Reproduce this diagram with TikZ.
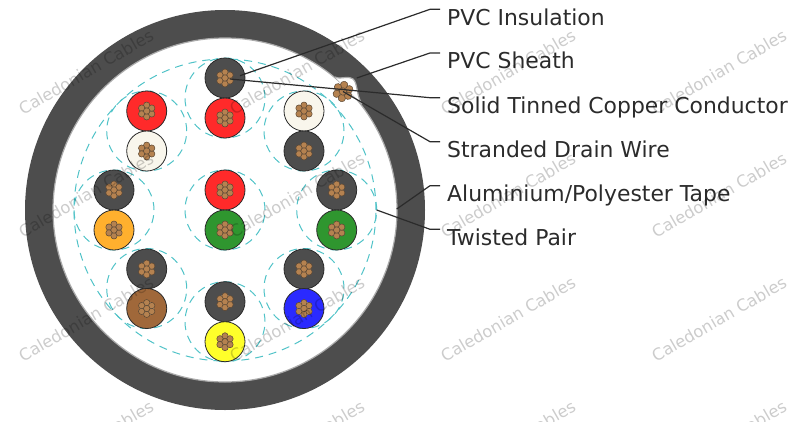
\documentclass[tikz,border=0pt]{standalone}
\usepackage{fontspec}
\setmainfont{DejaVu Sans}
\usepackage{xcolor}
\definecolor{SH}{RGB}{77,77,77}
\definecolor{TP}{RGB}{170,170,170}
\definecolor{CD}{RGB}{77,77,77}
\definecolor{CR}{RGB}{255,42,42}
\definecolor{CC}{RGB}{249,246,236}
\definecolor{CO}{RGB}{255,176,46}
\definecolor{CG}{RGB}{47,150,47}
\definecolor{CN}{RGB}{160,104,58}
\definecolor{CL}{RGB}{42,42,255}
\definecolor{CY}{RGB}{255,255,42}
\definecolor{ST}{RGB}{181,130,80}
\definecolor{SO}{RGB}{90,70,50}
\definecolor{DH}{RGB}{80,195,200}
\definecolor{DG}{RGB}{43,43,43}

\begin{document}
\begin{tikzpicture}[x=1pt, y=-1pt,
  wire/.style={circle, draw=DG, fill=#1, line width=0.8pt, minimum size=40pt, inner sep=0pt},
  dsh/.style={circle, draw=DH, dashed, dash pattern=on 8pt off 6pt, line width=1pt, inner sep=0pt, minimum size=#1},
  lead/.style={draw=DG, line width=1.2pt},
  lbl/.style={anchor=north west, inner xsep=7pt, inner ysep=0pt, text height=15.5pt, text depth=5pt,
              font=\fontsize{21.9}{24}\selectfont, text=DG},
  wm/.style={rotate=30, text=black, opacity=0.2, font=\fontsize{16.4}{20}\selectfont},
  strands/.pic={
    \fill[white] (0,0) circle (7pt);
    \foreach \a in {0,60,...,300}
      \draw[draw=SO, fill=ST, line width=0.5pt] (\a:5.8pt) circle (3.2pt);
    \draw[draw=SO, fill=ST, line width=0.5pt] (0,0) circle (3.2pt);
  }
]
\useasboundingbox (0,0) rectangle (790,421);

% Sheath and tape
\node[circle, fill=SH, minimum size=400pt, inner sep=0pt] (sheath) at (225,210) {};
\node[circle, fill=white, draw=TP, line width=1.2pt, minimum size=344pt, inner sep=0pt] (tape) at (225,210) {};
\fill[white] (335,77) .. controls (342,80) and (346,75) .. (353,79)
  .. controls (358,83) and (356,95) .. (362,104) -- cycle;
\draw[draw=TP, line width=1.2pt] (335,77) .. controls (342,80) and (346,75) .. (353,79)
  .. controls (358,83) and (356,95) .. (362,104);

% Lay-up
\node[dsh=302pt] (core) at (225,210) {};
\node[dsh=80pt] (p1) at (225,98) {};
\node[dsh=80pt] (p2) at (146.7,131) {};
\node[dsh=80pt] (p3) at (304,131) {};
\node[dsh=80pt] (p4) at (114,210) {};
\node[dsh=80pt] (p5) at (225,210) {};
\node[dsh=80pt] (p6) at (336.7,210) {};
\node[dsh=80pt] (p7) at (146.7,288.5) {};
\node[dsh=80pt] (p8) at (225,321.7) {};
\node[dsh=80pt] (p9) at (304,288.5) {};

% Wires
\node[wire=CD] (w1a) at (225,78) {};
\node[wire=CR] (w1b) at (225,118) {};
\node[wire=CR] (w2a) at (146.7,111) {};
\node[wire=CC] (w2b) at (146.7,151) {};
\node[wire=CC] (w3a) at (304,111) {};
\node[wire=CD] (w3b) at (304,151) {};
\node[wire=CD] (w4a) at (114,190) {};
\node[wire=CO] (w4b) at (114,230) {};
\node[wire=CR] (w5a) at (225,190) {};
\node[wire=CG] (w5b) at (225,230) {};
\node[wire=CD] (w6a) at (336.7,190) {};
\node[wire=CG] (w6b) at (336.7,230) {};
\node[wire=CD] (w7a) at (146.7,269) {};
\node[wire=CN] (w7b) at (146.7,308.5) {};
\node[wire=CD] (w8a) at (225,301.7) {};
\node[wire=CY] (w8b) at (225,341.7) {};
\node[wire=CD] (w9a) at (304,269) {};
\node[wire=CL] (w9b) at (304,308.5) {};
\foreach \w in {w1a,w1b,w2a,w2b,w3a,w3b,w4a,w4b,w5a,w5b,w6a,w6b,w7a,w7b,w8a,w8b,w9a,w9b}
  \pic[rotate=90] at (\w) {strands};
\pic[rotate=80, scale=1.15] at (343,91.5) {strands};

% Labels
\node[lbl] (l1) at (440,9.3)   {PVC Insulation};
\node[lbl] (l2) at (440,53)    {PVC Sheath};
\node[lbl] (l3) at (440,97.7)  {Solid Tinned Copper Conductor};
\node[lbl] (l4) at (440,141.7) {Stranded Drain Wire};
\node[lbl] (l5) at (440,185.7) {Aluminium/Polyester Tape};
\node[lbl] (l6) at (440,229.3) {Twisted Pair};

\coordinate (a1) at (240,75.7);
\coordinate (a2) at (356.7,78);
\coordinate (a3) at (230,79);
\coordinate (a4) at (343,91.5);
\coordinate (a5) at (396.7,209);
\coordinate (a6) at (376.7,210);

\draw[lead] (a1) -- (430,9.3) -- (l1.north west);
\draw[lead] (a2) -- (430,53) -- (l2.north west);
\draw[lead] (a3) -- (430,97.7) -- (l3.north west);
\draw[lead] (a4) -- (430,141.7) -- (l4.north west);
\draw[lead] (a5) -- (430,185.7) -- (l5.north west);
\draw[lead] (a6) -- (430,229.3) -- (l6.north west);

% Watermark
\foreach \c/\x in {a/86,b/297,c/508,d/719}
  \foreach \r/\y in {1/72,2/195,3/319,4/443}
    \node[wm] (wm\c\r) at (\x,\y) {Caledonian Cables};
\end{tikzpicture}
\end{document}
